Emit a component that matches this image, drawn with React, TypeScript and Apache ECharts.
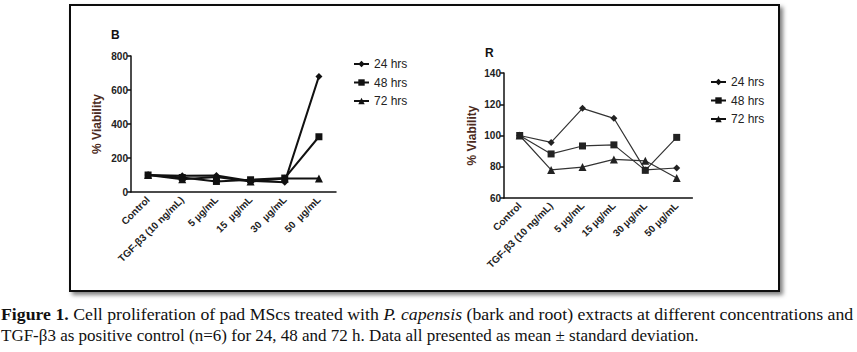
import React, { useEffect, useRef } from "react";
import * as echarts from "echarts";

const categoriesB = ["Control", "TGF-β3 (10 ng/mL)", "5 µg/mL", "15  µg/mL", "30  µg/mL", "50  µg/mL"];
const categoriesR = ["Control", "TGF-β3 (10 ng/mL)", "5 µg/mL", "15 µg/mL", "30 µg/mL", "50 µg/mL"];
const seriesNames = ["24 hrs", "48 hrs", "72 hrs"];
const b24 = [100, 95, 97, 65, 58, 680];
const b48 = [100, 85, 62, 72, 82, 325];
const b72 = [100, 75, 88, 62, 80, 80];
const r24 = [100, 95.6, 117.4, 111, 78, 79.2];
const r48 = [100, 88.2, 93.3, 94, 77.7, 98.8];
const r72 = [100, 78, 79.8, 84.7, 83.8, 72.8];

export default function App() {
  const ref = useRef<HTMLDivElement>(null);
  useEffect(() => {
    document.body.style.margin = "0";
    const chart = echarts.init(ref.current!, undefined, { renderer: "svg" });
    const symbols = ["diamond", "rect", "triangle"];
    const symSizes = [7, 7, 8];
    const axisFont = { fontFamily: "Liberation Sans", fontWeight: "bold" as const, fontSize: 10, color: "#222" };
    const mkX = (idx: number, cats: string[]) => ({
      type: "category",
      gridIndex: idx,
      data: cats,
      boundaryGap: true,
      axisLine: { lineStyle: { color: "#111", width: 1.5 } },
      axisTick: { alignWithLabel: true, length: 4, lineStyle: { color: "#111", width: 1.5 } },
      axisLabel: { ...axisFont, rotate: 45, interval: 0, margin: 6 },
      splitLine: { show: false },
    });
    const mkY = (idx: number, min: number, max: number, interval: number, gap: number) => ({
      type: "value",
      gridIndex: idx,
      min,
      max,
      interval,
      name: "% Viability",
      nameLocation: "middle",
      nameGap: gap,
      nameTextStyle: { fontFamily: "Liberation Sans", fontWeight: "bold", fontSize: 12, color: "#4b2a20" },
      axisLine: { show: true, lineStyle: { color: "#111", width: 1.5 } },
      axisTick: { show: true, length: 4, lineStyle: { color: "#111", width: 1.5 } },
      axisLabel: { ...axisFont, margin: 3 },
      splitLine: { show: false },
    });
    const mkSeries = (name: string, data: number[], i: number, grid: number, width: number) => ({
      type: "line",
      name,
      data,
      xAxisIndex: grid,
      yAxisIndex: grid,
      symbol: symbols[i],
      symbolSize: symSizes[i],
      lineStyle: { color: grid === 0 ? "#111" : "#333", width },
      itemStyle: { color: grid === 0 ? "#111" : "#222" },
    });
    const mkLegend = (left: number, top: number) => ({
      left,
      top,
      orient: "vertical",
      itemWidth: 15,
      itemHeight: 8,
      itemGap: 6.5,
      data: seriesNames.map((n) => ({ name: n })),
      textStyle: { fontFamily: "Liberation Sans", fontSize: 12, color: "#222" },
      selectedMode: false,
    });
    chart.setOption({
      animation: false,
      backgroundColor: "#fff",
      grid: [
        { left: 131, top: 56, width: 205, height: 136 },
        { left: 504, top: 73, width: 188.4, height: 125 },
      ],
      xAxis: [mkX(0, categoriesB), mkX(1, categoriesR)],
      yAxis: [mkY(0, 0, 800, 200, 28), mkY(1, 60, 140, 20, 26)],
      legend: [mkLegend(348, 53), mkLegend(705, 71)],
      graphic: [
        {
          type: "rect",
          shape: { x: 70, y: 5, width: 709, height: 286 },
          style: { fill: "#fff", stroke: "#111", lineWidth: 2, shadowBlur: 4, shadowOffsetX: 3, shadowOffsetY: 3, shadowColor: "rgba(0,0,0,0.5)" },
          z: -10,
        },
        {
          type: "text",
          left: 111,
          top: 29,
          style: { text: "B", fontFamily: "Liberation Sans", fontWeight: "bold", fontSize: 12, fill: "#111" },
        },
        {
          type: "text",
          left: 485,
          top: 47,
          style: { text: "R", fontFamily: "Liberation Sans", fontWeight: "bold", fontSize: 12, fill: "#111" },
        },
        {
          type: "text",
          x: 1,
          y: 306,
          scaleX: 1.045,
          style: {
            text: "{b|Figure 1.} Cell proliferation of pad MScs treated with {i|P. capensis} (bark and root) extracts at different concentrations and",
            fontFamily: "Liberation Serif",
            fontSize: 17,
            fill: "#111",
            rich: {
              b: { fontFamily: "Liberation Serif", fontWeight: "bold", fontSize: 17, fill: "#111" },
              i: { fontFamily: "Liberation Serif", fontStyle: "italic", fontSize: 17, fill: "#111" },
            },
          },
        },
        {
          type: "text",
          x: 1,
          y: 327,
          style: {
            text: "TGF-β3 as positive control (n=6) for 24, 48 and 72 h. Data all presented as mean ± standard deviation.",
            fontFamily: "Liberation Serif",
            fontSize: 17,
            fill: "#111",
          },
        },
      ],
      series: [
        mkSeries(seriesNames[0], b24, 0, 0, 2),
        mkSeries(seriesNames[1], b48, 1, 0, 2),
        mkSeries(seriesNames[2], b72, 2, 0, 2),
        mkSeries(seriesNames[0], r24, 0, 1, 1.2),
        mkSeries(seriesNames[1], r48, 1, 1, 1.2),
        mkSeries(seriesNames[2], r72, 2, 1, 1.2),
      ],
    });
    return () => chart.dispose();
  }, []);
  return <div ref={ref} style={{ width: 857, height: 352 }} />;
}
